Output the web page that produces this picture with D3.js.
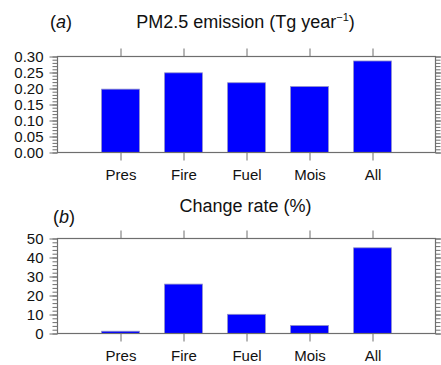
<!DOCTYPE html>
<html><head><meta charset="utf-8">
<script src="https://cdn.jsdelivr.net/npm/d3@7"></script>
<style>
body{margin:0;background:#fff;}
svg{display:block;font-family:"Liberation Sans",Arial,Helvetica,sans-serif;}
</style></head>
<body><svg id="c" width="441" height="365"></svg>
<script>
const categories = ["Pres","Fire","Fuel","Mois","All"];
const emission = [0.198, 0.249, 0.218, 0.206, 0.286];
const changeRate = [1.2, 26.0, 10.1, 4.2, 45.1];
const emissionTicks = [0.00,0.05,0.10,0.15,0.20,0.25,0.30];
const changeTicks = [0,10,20,30,40,50];

const svg = d3.select("#c");
const X0 = 57.5, X1 = 435.5;
const x = d3.scaleLinear().domain([0, categories.length + 1]).range([X0, X1]);
const barW = (x(1) - x(0)) * 0.6;
const lineCol = "#6e6e6e";

function panel(opts){
  const {top, bottom, values, domain, ticks, minorStep, fmt} = opts;
  const y = d3.scaleLinear().domain(domain).range([bottom, top]);
  const g = svg.append("g");
  // bars
  g.selectAll("rect.bar").data(values).join("rect")
    .attr("class","bar")
    .attr("x",(d,i)=>x(i+1)-barW/2)
    .attr("width",barW)
    .attr("y",d=>y(d))
    .attr("height",d=>y(domain[0])-y(d))
    .attr("fill","#0000ff")
    .attr("stroke","#9090c8")
    .attr("stroke-width",0.8);
  // minor ticks
  const minors = d3.range(domain[0], domain[1] + minorStep/2, minorStep);
  const styleAxis = s => { s.select(".domain").remove(); s.selectAll("line").attr("stroke",lineCol); };
  g.append("g").attr("transform",`translate(${X0},0)`)
    .call(d3.axisLeft(y).tickValues(minors).tickSize(5).tickFormat(""))
    .call(styleAxis);
  g.append("g").attr("transform",`translate(${X1},0)`)
    .call(d3.axisRight(y).tickValues(minors).tickSize(5).tickFormat(""))
    .call(styleAxis);
  // major ticks
  g.append("g").attr("transform",`translate(${X0},0)`)
    .call(d3.axisLeft(y).tickValues(ticks).tickSize(8).tickPadding(6).tickFormat(fmt))
    .call(styleAxis)
    .call(s=>s.selectAll("text").attr("font-size",15).attr("fill","#111").attr("font-family",null));
  g.append("g").attr("transform",`translate(${X1},0)`)
    .call(d3.axisRight(y).tickValues(ticks).tickSize(8).tickFormat(""))
    .call(styleAxis);
  const cats = categories.map((c,i)=>i+1);
  g.append("g").attr("transform",`translate(0,${top})`)
    .call(d3.axisTop(x).tickValues(cats).tickSize(8).tickFormat(""))
    .call(styleAxis);
  g.append("g").attr("transform",`translate(0,${bottom})`)
    .call(d3.axisBottom(x).tickValues(cats).tickSize(8).tickPadding(9).tickFormat(d=>categories[d-1]))
    .call(styleAxis)
    .call(s=>s.selectAll("text").attr("font-size",15).attr("fill","#111").attr("font-family",null));
  // frame
  g.append("rect").attr("x",X0).attr("y",top).attr("width",X1-X0).attr("height",bottom-top)
    .attr("fill","none").attr("stroke",lineCol).attr("stroke-width",1.2);
}

panel({top:56.5, bottom:152.5, values:emission, domain:[0,0.30], ticks:emissionTicks, minorStep:0.01, fmt:d3.format(".2f")});
panel({top:238.5, bottom:333.5, values:changeRate, domain:[0,50], ticks:changeTicks, minorStep:2, fmt:d3.format("d")});

const cx = (X0 + X1)/2 - 1;
// Titles
const t1 = svg.append("text").attr("x",cx).attr("y",28).attr("text-anchor","middle")
  .attr("font-size",18).attr("fill","#111");
t1.append("tspan").text("PM2.5 emission (Tg year");
t1.append("tspan").attr("font-size",11).attr("dy",-7).text("−1");
t1.append("tspan").attr("dy",7).text(")");

const a = svg.append("text").attr("x",50).attr("y",28).attr("font-size",18).attr("fill","#111");
a.append("tspan").text("(");
a.append("tspan").attr("font-style","italic").text("a");
a.append("tspan").text(")");

svg.append("text").attr("x",cx).attr("y",212).attr("text-anchor","middle")
  .attr("font-size",18).attr("fill","#111").text("Change rate (%)");

const b = svg.append("text").attr("x",53).attr("y",222.5).attr("font-size",18).attr("fill","#111");
b.append("tspan").text("(");
b.append("tspan").attr("font-style","italic").text("b");
b.append("tspan").text(")");
</script></body></html>
